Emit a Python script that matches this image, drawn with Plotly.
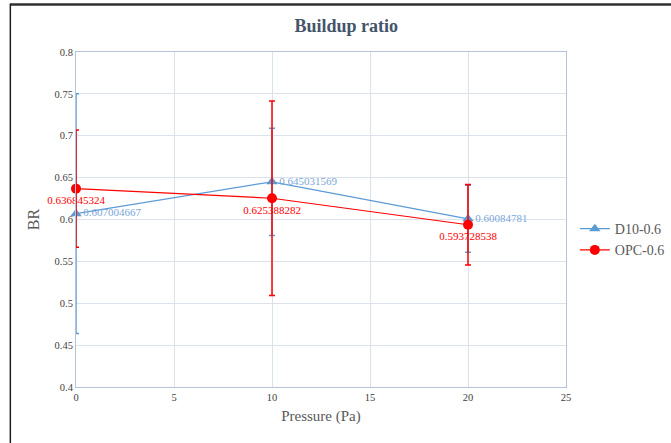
import plotly.graph_objects as go

pressure = [0, 10, 20]
d10_values = [0.607004667, 0.645031569, 0.60084781]
d10_errors = [0.143, 0.064, 0.040]
opc_values = [0.636845324, 0.625388282, 0.593728538]
opc_errors = [0.070, 0.116, 0.048]

x_ticks = [0, 5, 10, 15, 20, 25]
y_ticks = [0.4, 0.45, 0.5, 0.55, 0.6, 0.65, 0.7, 0.75, 0.8]

SERIF = "Liberation Serif, Times New Roman, serif"
BLUE = "#5B9BD5"
RED = "#FF0000"

fig = go.Figure()
fig.add_trace(go.Scatter(
    x=pressure, y=d10_values, name="D10-0.6", mode="lines+markers+text",
    line=dict(color=BLUE, width=1.2),
    marker=dict(symbol="triangle-up", size=10, color=BLUE),
    error_y=dict(type="data", array=d10_errors, visible=True, color=BLUE, thickness=1.5, width=3),
    text=[str(v) for v in d10_values], textposition="middle right",
    textfont=dict(family=SERIF, size=11, color="#7BA7DA"),
    cliponaxis=False,
))
fig.add_trace(go.Scatter(
    x=pressure, y=opc_values, name="OPC-0.6", mode="lines+markers+text",
    line=dict(color=RED, width=1.2),
    marker=dict(symbol="circle", size=10, color=RED),
    error_y=dict(type="data", array=opc_errors, visible=True, color=RED, thickness=1.5, width=3),
    text=[str(v) for v in opc_values], textposition="bottom center",
    textfont=dict(family=SERIF, size=11, color=RED),
    cliponaxis=False,
))

fig.update_layout(
    width=671, height=443,
    margin=dict(l=76, r=105, t=52, b=56, autoexpand=False),
    paper_bgcolor="white", plot_bgcolor="white",
    font=dict(family=SERIF, color="#404040"),
    title=dict(text="<b>Buildup ratio</b>", x=0.516, xanchor="center", y=0.943, yanchor="middle",
               font=dict(family=SERIF, size=18, color="#44546A")),
    legend=dict(x=1.018, xanchor="left", y=0.44, yanchor="middle",
                font=dict(family=SERIF, size=14, color="#595959"),
                bgcolor="rgba(0,0,0,0)", tracegroupgap=4),
    xaxis=dict(range=[0, 25], tickvals=x_ticks, showgrid=True, gridcolor="#DCE2EC", gridwidth=1,
               zeroline=False, showline=True, linecolor="#B4C3DA", linewidth=1, mirror=True,
               tickfont=dict(family=SERIF, size=10.5, color="#404040"), ticks="",
               title=dict(text="Pressure (Pa)", font=dict(family=SERIF, size=15, color="#595959"), standoff=8)),
    yaxis=dict(range=[0.4, 0.8], tickvals=y_ticks, ticktext=[f"{v:g}" for v in y_ticks],
               showgrid=True, gridcolor="#DCE2EC", gridwidth=1,
               zeroline=False, showline=True, linecolor="#B4C3DA", linewidth=1, mirror=True,
               tickfont=dict(family=SERIF, size=10.5, color="#404040"), ticks="",
               title=dict(text="BR", font=dict(family=SERIF, size=16, color="#595959"), standoff=10)),
)

# outer frame lines (top and left)
fig.add_shape(type="line", xref="paper", yref="paper", x0=-0.134, x1=1.22, y0=1.142, y1=1.142,
              line=dict(color="#303030", width=2.5))
fig.add_shape(type="line", xref="paper", yref="paper", x0=-0.134, x1=-0.134, y0=1.145, y1=-0.2,
              line=dict(color="#202020", width=1.5))

fig.write_html("out.html", config={"displayModeBar": False},
               post_script="document.body.style.margin='0px';document.body.style.overflow='hidden';")
